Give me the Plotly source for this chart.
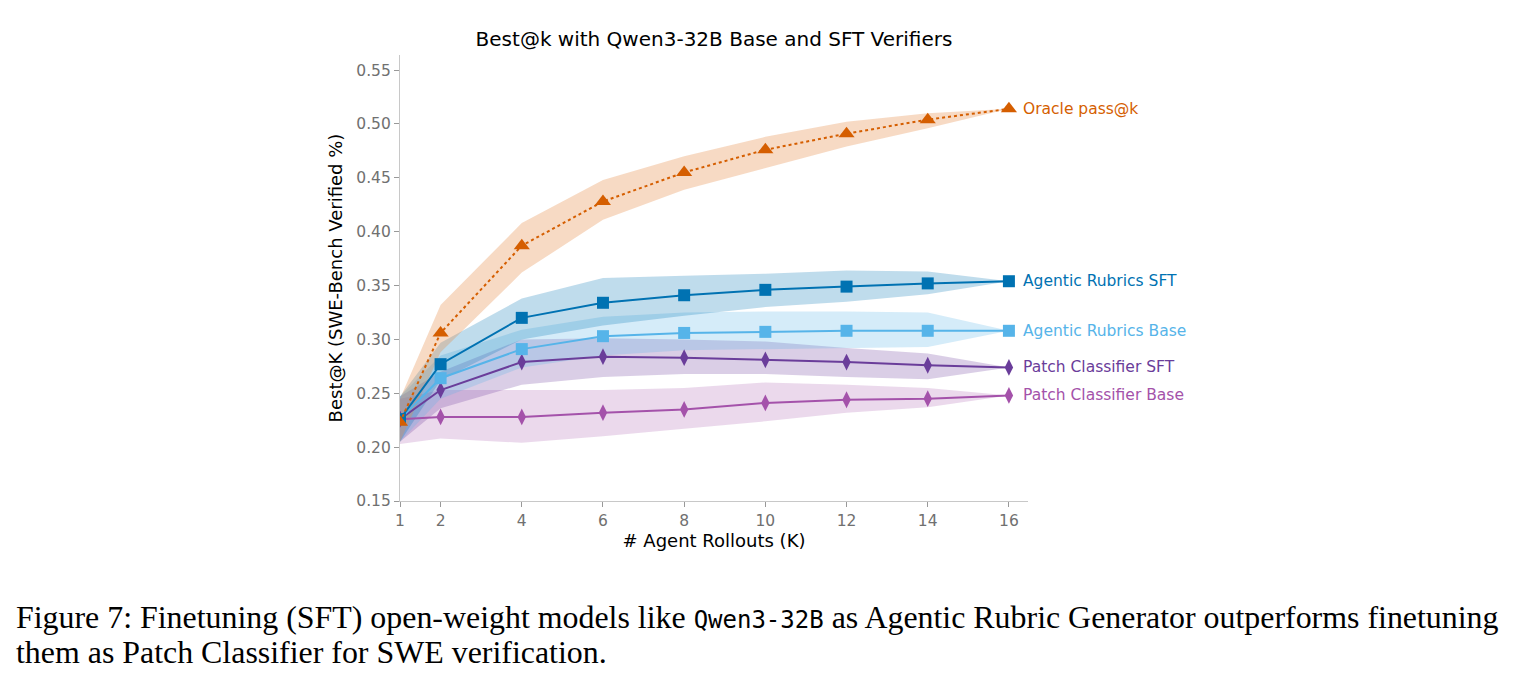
import plotly.graph_objects as go

K = [1, 2, 4, 6, 8, 10, 12, 14, 16]

series_names = ["Oracle pass@k", "Agentic Rubrics SFT", "Agentic Rubrics Base",
                "Patch Classifier SFT", "Patch Classifier Base"]

oracle_mean = [0.223, 0.306, 0.387, 0.428, 0.455, 0.476, 0.491, 0.504, 0.514]
oracle_lo   = [0.205, 0.288, 0.362, 0.411, 0.439, 0.459, 0.479, 0.496, 0.514]
oracle_hi   = [0.245, 0.332, 0.408, 0.448, 0.470, 0.488, 0.502, 0.510, 0.514]

ar_sft_mean = [0.226, 0.277, 0.320, 0.334, 0.341, 0.346, 0.349, 0.352, 0.354]
ar_sft_lo   = [0.205, 0.262, 0.300, 0.313, 0.322, 0.330, 0.335, 0.342, 0.354]
ar_sft_hi   = [0.247, 0.297, 0.338, 0.357, 0.359, 0.361, 0.364, 0.363, 0.354]

ar_base_mean = [0.226, 0.264, 0.291, 0.303, 0.306, 0.307, 0.308, 0.308, 0.308]
ar_base_lo   = [0.205, 0.245, 0.274, 0.285, 0.290, 0.291, 0.292, 0.293, 0.308]
ar_base_hi   = [0.247, 0.285, 0.309, 0.321, 0.325, 0.326, 0.326, 0.325, 0.308]

pc_sft_mean = [0.226, 0.253, 0.279, 0.284, 0.283, 0.281, 0.279, 0.276, 0.274]
pc_sft_lo   = [0.205, 0.236, 0.258, 0.265, 0.268, 0.268, 0.265, 0.263, 0.274]
pc_sft_hi   = [0.247, 0.270, 0.300, 0.301, 0.300, 0.298, 0.292, 0.287, 0.274]

pc_base_mean = [0.226, 0.228, 0.228, 0.232, 0.235, 0.241, 0.244, 0.245, 0.248]
pc_base_lo   = [0.203, 0.208, 0.204, 0.210, 0.217, 0.224, 0.232, 0.237, 0.248]
pc_base_hi   = [0.245, 0.253, 0.253, 0.253, 0.255, 0.260, 0.258, 0.255, 0.248]

x_ticks = [1, 2, 4, 6, 8, 10, 12, 14, 16]
y_ticks = [0.15, 0.20, 0.25, 0.30, 0.35, 0.40, 0.45, 0.50, 0.55]
y_tick_labels = ["0.15", "0.20", "0.25", "0.30", "0.35", "0.40", "0.45", "0.50", "0.55"]

colors = ["#D55E00", "#0072B2", "#56B4E9", "#6A3D9A", "#A452AA"]
bands = ["rgba(230,140,70,0.32)", "rgba(0,114,178,0.25)", "rgba(86,180,233,0.25)",
         "rgba(106,61,154,0.25)", "rgba(164,82,170,0.22)"]
symbols = ["triangle-up", "square", "square", "diamond-tall", "diamond-tall"]
marker_sizes = [14, 12, 12, 12, 12]
dashes = ["dot", "solid", "solid", "solid", "solid"]

data = [
    (oracle_mean, oracle_lo, oracle_hi),
    (ar_sft_mean, ar_sft_lo, ar_sft_hi),
    (ar_base_mean, ar_base_lo, ar_base_hi),
    (pc_sft_mean, pc_sft_lo, pc_sft_hi),
    (pc_base_mean, pc_base_lo, pc_base_hi),
]

fig = go.Figure()

for i in [4, 3, 2, 1, 0]:
    mean, lo, hi = data[i]
    fig.add_trace(go.Scatter(x=K, y=hi, mode="lines", line=dict(width=0),
                             hoverinfo="skip", showlegend=False))
    fig.add_trace(go.Scatter(x=K, y=lo, mode="lines", line=dict(width=0),
                             fill="tonexty", fillcolor=bands[i],
                             hoverinfo="skip", showlegend=False))

for i in [4, 3, 2, 1, 0]:
    mean, lo, hi = data[i]
    fig.add_trace(go.Scatter(
        x=K, y=mean, mode="lines+markers", name=series_names[i],
        line=dict(color=colors[i], width=2, dash=dashes[i]),
        marker=dict(symbol=symbols[i], size=marker_sizes[i], color=colors[i]),
        showlegend=False))

annotations = []
for i, name in enumerate(series_names):
    annotations.append(dict(
        x=K[-1], y=data[i][0][-1], xref="x", yref="y", text=name,
        xanchor="left", yanchor="middle", xshift=12, showarrow=False,
        font=dict(family="DejaVu Sans", size=15.5, color=colors[i])))

cap_font = dict(family="Liberation Serif", size=31.9, color="black")
annotations.append(dict(
    x=-0.615, y=-0.262, xref="paper", yref="paper", xanchor="left", yanchor="middle",
    showarrow=False, font=cap_font,
    text="Figure 7: Finetuning (SFT) open-weight models like "
         "<span style=\"font-family:'DejaVu Sans Mono';font-size:24px\">Qwen3-32B</span>"
         " as Agentic Rubric Generator outperforms finetuning"))
annotations.append(dict(
    x=-0.615, y=-0.340, xref="paper", yref="paper", xanchor="left", yanchor="middle",
    showarrow=False, font=cap_font,
    text="them as Patch Classifier for SWE verification."))

fig.update_layout(
    width=1514, height=685,
    margin=dict(l=400, r=486, t=55, b=184),
    paper_bgcolor="white", plot_bgcolor="white",
    title=dict(text="Best@k with Qwen3-32B Base and SFT Verifiers",
               x=714 / 1514, xanchor="center", y=1 - 39 / 685, yanchor="middle",
               font=dict(family="DejaVu Sans", size=20, color="black")),
    xaxis=dict(range=[1, 16.47], tickvals=x_ticks, ticktext=[str(v) for v in x_ticks],
               showgrid=False, zeroline=False, showline=True, linecolor="#c8c8c8", linewidth=1.2,
               ticks="outside", ticklen=5, tickcolor="#999999",
               tickfont=dict(family="DejaVu Sans", size=15.5, color="#707070"),
               title=dict(text="# Agent Rollouts (K)", standoff=5,
                          font=dict(family="DejaVu Sans", size=18, color="black"))),
    yaxis=dict(range=[0.15, 0.564], tickvals=y_ticks, ticktext=y_tick_labels,
               showgrid=False, zeroline=False, showline=True, linecolor="#c8c8c8", linewidth=1.2,
               ticks="outside", ticklen=5, tickcolor="#999999",
               tickfont=dict(family="DejaVu Sans", size=15.5, color="#707070"),
               title=dict(text="Best@K (SWE-Bench Verified %)", standoff=8,
                          font=dict(family="DejaVu Sans", size=18, color="black"))),
    annotations=annotations,
)

fig.write_html("out.html")
